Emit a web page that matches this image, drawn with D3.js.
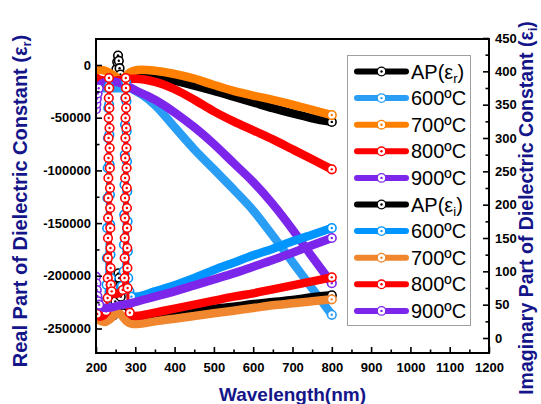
<!DOCTYPE html>
<html>
<head>
<meta charset="utf-8">
<script src="https://cdn.jsdelivr.net/npm/d3@7"></script>
<style>
body { margin: 0; background: #fff; }
svg { display: block; font-family: "Liberation Sans", Arial, sans-serif; }
</style>
</head>
<body>
<svg id="chart" width="541" height="404"></svg>
<script>
"use strict";

// tick values
var xTicks = [200, 300, 400, 500, 600, 700, 800, 900, 1000, 1100, 1200];
var realTicks = [0, -50000, -100000, -150000, -200000, -250000];
var imagTicks = [0, 50, 100, 150, 200, 250, 300, 350, 400, 450];

// real part (left axis): [wavelength, value]
var apReal = [[250,-11000],[252,-4000],[254,3000],[256,9000],[258,4000],[260,-3000],[262,-9000],[266,-12000],[275,-12500],
  [290,-12000],[300,-12300],[350,-12800],[400,-15000],[450,-19500],[500,-24500],[550,-30000],[600,-35500],
  [650,-41000],[700,-46000],[750,-50500],[800,-54000]];
var real600 = [[200,-19000],[210,-21000],[220,-22000],[240,-22000],[260,-22000],[280,-22000],[290,-22500],[300,-24500],
  [320,-29000],[350,-38000],[400,-59000],[450,-80000],[500,-99000],[550,-118000],[600,-138000],[650,-162000],
  [700,-187000],[750,-212000],[800,-237000]];
var real700 = [[200,-6000],[210,-4500],[220,-5000],[235,-7500],[250,-11000],[262,-15000],[270,-13500],[280,-9000],
  [290,-6500],[300,-5200],[315,-4600],[350,-5500],[400,-8500],[450,-13000],[500,-19000],[550,-24500],[600,-29000],
  [650,-33000],[700,-37500],[750,-42500],[800,-47500]];
var real800 = [[200,-12000],[210,-14000],[225,-15000],[245,-15000],[265,-14000],[285,-13000],[300,-13000],[350,-16000],
  [400,-23000],[450,-33000],[500,-44000],[550,-53500],[600,-62000],[650,-70500],[700,-80000],[750,-89500],[800,-99000]];
var real900 = [[200,-42000],[201,-37000],[202,-32000],[204,-27000],[207,-22000],[212,-18500],[220,-16500],[235,-15500],
  [250,-16000],[265,-17500],[280,-20000],[300,-24000],[350,-33000],[400,-45000],[450,-59000],[500,-75000],
  [550,-93000],[600,-111000],[650,-132000],[700,-156000],[750,-182000],[800,-207000]];

// imaginary part (right axis): [wavelength, value]
var apImag = [[244,34],[247,42],[249,55],[251,67],[253,79],[255,90],[257,97],[259,90],[261,78],[263,62],[265,47],
  [268,37],[275,33],[290,31],[300,31],[350,34],[400,38],[450,41],[500,44],[550,47],[600,51],[650,54],[700,57],
  [750,61],[800,64]];
var imag600 = [[200,56],[205,50],[215,48],[224,55],[227,80],[227.7,120],[228.4,165],[229.1,210],[229.8,255],[230.5,300],
  [231.2,345],[232.3,378],[233.3,350],[234,305],[234.7,260],[235.4,215],[236.1,170],[236.8,125],[237.8,90],[242,75],
  [255,72],[266,78],[270.5,100],[271.2,140],[271.9,185],[272.6,230],[273.3,275],[274,320],[274.7,360],[276.3,385],
  [277.5,355],[278.2,310],[278.9,265],[279.6,220],[280.3,175],[281,130],[282,90],[285,70],[290,62],[300,62],
  [350,70],[400,79],[450,90],[500,102],[550,113],[600,124],[650,134],[700,145],[750,155],[800,165]];
var imag700 = [[200,30],[210,26],[222,24],[235,28],[248,35],[258,37],[268,32],[280,24],[292,21],[305,21],[350,25],
  [400,29],[450,33],[500,37],[550,41],[600,45],[650,49],[700,52],[750,55],[800,58]];
var imag800 = [[200,45],[203,36],[210,32],[220,34],[226,40],[229.6,60],[229.9,90],[230.2,120],[230.5,150],[230.8,180],
  [231.1,210],[231.4,240],[231.7,270],[232,300],[232.3,330],[232.6,360],[233,390],[233.6,375],[234,345],[234.4,315],
  [234.8,285],[235.2,255],[235.6,225],[236,195],[236.4,165],[236.8,135],[237.2,105],[237.8,80],[240,70],[250,66],
  [260,68],[268,72],[272.6,90],[272.9,120],[273.2,150],[273.5,180],[273.8,210],[274.1,240],[274.4,270],[274.7,300],
  [275,330],[275.3,360],[275.7,390],[276.3,375],[276.7,345],[277.1,315],[277.5,285],[277.9,255],[278.3,225],
  [278.7,195],[279.1,165],[279.5,135],[279.9,105],[280.5,75],[282,50],[286,38],[292,34],[300,33],[350,38],[400,44],
  [450,50],[500,56],[550,62],[600,67],[650,73],[700,79],[750,85],[800,91]];
var imag900 = [[200,92],[201,82],[202,72],[203.5,63],[205.5,55],[208,50],[215,46],[225,45],[240,46],[260,49],[280,51],
  [300,54],[350,62],[400,70],[450,79],[500,88],[550,97],[600,107],[650,117],[700,128],[750,139],[800,150]];

var temps = ["600ºC", "700ºC", "800ºC", "900ºC"];

var navy = "#15158a";
var series = [
  { data: apReal,  axis: "r", color: "#000000" },
  { data: real600, axis: "r", color: "#2a9df4" },
  { data: real700, axis: "r", color: "#ff8000" },
  { data: real800, axis: "r", color: "#ff0000" },
  { data: real900, axis: "r", color: "#7d26eb" },
  { data: apImag,  axis: "i", color: "#000000" },
  { data: imag600, axis: "i", color: "#0095ff" },
  { data: imag700, axis: "i", color: "#f0872f" },
  { data: imag800, axis: "i", color: "#ff0000" },
  { data: imag900, axis: "i", color: "#7d26eb" }
];

var svg = d3.select("#chart");
var pLeft = 96, pRight = 489, pTop = 39, pBottom = 353;

var x = d3.scaleLinear().domain([200, 1200]).range([pLeft, pRight]);
var yR = d3.scaleLinear().domain([-273250, 24670]).range([pBottom, pTop]);
var yI = d3.scaleLinear().domain([-22.5, 448.5]).range([pBottom, pTop]);

svg.append("defs").append("clipPath").attr("id", "plotclip")
  .append("rect").attr("x", pLeft).attr("y", pTop).attr("width", pRight - pLeft).attr("height", pBottom - pTop);

var plot = svg.append("g").attr("clip-path", "url(#plotclip)");
var smooth = d3.line().curve(d3.curveMonotoneX);
var straight = d3.line();

// steep stretches: thin line with open symbols; flat stretches: solid thick band
function steep(a, b) {
  if (!a || !b) return false;
  var dx = Math.abs(b[0] - a[0]), dy = Math.abs(b[1] - a[1]);
  return dy > 3 && dy > 2.5 * dx;
}

function marker(g, cx, cy, color, sw) {
  g.append("circle").attr("cx", cx).attr("cy", cy).attr("r", 4.3)
    .attr("fill", "#fff").attr("stroke", color).attr("stroke-width", sw || 1.3);
  g.append("circle").attr("cx", cx).attr("cy", cy).attr("r", 1.2).attr("fill", color);
}

series.forEach(function (s) {
  var ys = s.axis === "r" ? yR : yI;
  var pts = s.data.map(function (d) { return [x(d[0]), ys(d[1])]; });
  var g = plot.append("g");

  // split into runs of steep / flat segments
  var runs = [], cur = null;
  for (var i = 1; i < pts.length; i++) {
    var st = steep(pts[i - 1], pts[i]);
    if (!cur || cur.steep !== st) {
      cur = { steep: st, pts: [pts[i - 1]] };
      runs.push(cur);
    }
    cur.pts.push(pts[i]);
  }
  runs.forEach(function (r) {
    g.append("path").attr("d", r.steep ? straight(r.pts) : smooth(r.pts))
      .attr("fill", "none").attr("stroke", s.color)
      .attr("stroke-width", r.steep ? 3 : 8.5)
      .attr("stroke-linejoin", "round").attr("stroke-linecap", "round");
  });

  pts.forEach(function (p, i) {
    if (i === pts.length - 1 || steep(pts[i - 1], p) || steep(p, pts[i + 1])) {
      marker(g, p[0], p[1], s.color, 1.6);
    }
  });
});

// axes, ticks pointing inwards
function styleAxis(g) {
  g.select(".domain").remove();
  g.selectAll(".tick line").attr("stroke", "#000").attr("stroke-width", 1.6);
  g.selectAll(".tick text").attr("fill", "#000").attr("font-size", 13)
    .attr("font-weight", "bold").attr("font-family", "'Liberation Sans', Arial, sans-serif");
}

var xMinor = d3.range(250, 1200, 100);
var rMinor = [-25000, -75000, -125000, -175000, -225000];
var iMinor = [25, 75, 125, 175, 225, 275, 325, 375, 425];

svg.append("g").attr("transform", "translate(0," + pBottom + ")")
  .call(d3.axisBottom(x).tickValues(xTicks).tickFormat(d3.format("d")).tickSize(-6).tickPadding(10)).call(styleAxis);
svg.append("g").attr("transform", "translate(0," + pBottom + ")")
  .call(d3.axisBottom(x).tickValues(xMinor).tickFormat("").tickSize(-3.5)).call(styleAxis);

svg.append("g").attr("transform", "translate(" + pLeft + ",0)")
  .call(d3.axisLeft(yR).tickValues(realTicks).tickFormat(function (d) { return String(d); }).tickSize(-6).tickPadding(5))
  .call(styleAxis);
svg.append("g").attr("transform", "translate(" + pLeft + ",0)")
  .call(d3.axisLeft(yR).tickValues(rMinor).tickFormat("").tickSize(-3.5)).call(styleAxis);

svg.append("g").attr("transform", "translate(" + pRight + ",0)")
  .call(d3.axisRight(yI).tickValues(imagTicks).tickFormat(d3.format("d")).tickSize(-6).tickPadding(6)).call(styleAxis);
svg.append("g").attr("transform", "translate(" + pRight + ",0)")
  .call(d3.axisRight(yI).tickValues(iMinor).tickFormat("").tickSize(-3.5)).call(styleAxis);

svg.append("rect").attr("x", pLeft).attr("y", pTop).attr("width", pRight - pLeft).attr("height", pBottom - pTop)
  .attr("fill", "none").attr("stroke", "#000").attr("stroke-width", 2);

// axis titles
function title(t, size, main, sub, tail) {
  t.attr("fill", navy).attr("font-weight", "bold").attr("text-anchor", "middle").attr("font-size", size);
  t.append("tspan").text(main);
  if (sub) {
    t.append("tspan").attr("font-size", 13).attr("dy", 4).text(sub);
    t.append("tspan").attr("dy", -4).text(tail);
  }
}
title(svg.append("text").attr("transform", "translate(27,201) rotate(-90)"), 20,
  "Real Part of Dielectric Constant (ε", "r", ")");
title(svg.append("text").attr("transform", "translate(533,208) rotate(-90)"), 19.5,
  "Imaginary Part of Dielectric Constant (ε", "i", ")");
title(svg.append("text").attr("x", (pLeft + pRight) / 2).attr("y", 401), 19, "Wavelength(nm)");

// legend
var legend = svg.append("g");
legend.append("rect").attr("x", 347.5).attr("y", 55.5).attr("width", 123).attr("height", 270)
  .attr("fill", "#fff").attr("stroke", "#a0a0a0").attr("stroke-width", 1);

series.forEach(function (s, i) {
  var cy = 71.5 + i * 26.6;
  legend.append("line").attr("x1", 357).attr("x2", 406).attr("y1", cy).attr("y2", cy)
    .attr("stroke", s.color).attr("stroke-width", 6).attr("stroke-linecap", "round");
  marker(legend, 381.5, cy, s.color);
  var t = legend.append("text").attr("x", 411).attr("y", cy + 7).attr("font-size", 20).attr("fill", "#000");
  if (i % 5 === 0) {
    t.append("tspan").text("AP(ε");
    t.append("tspan").attr("font-size", 13).attr("dy", 4).text(s.axis);
    t.append("tspan").attr("dy", -4).text(")");
  } else {
    t.text(temps[(i % 5) - 1]);
  }
});
</script>
</body>
</html>
